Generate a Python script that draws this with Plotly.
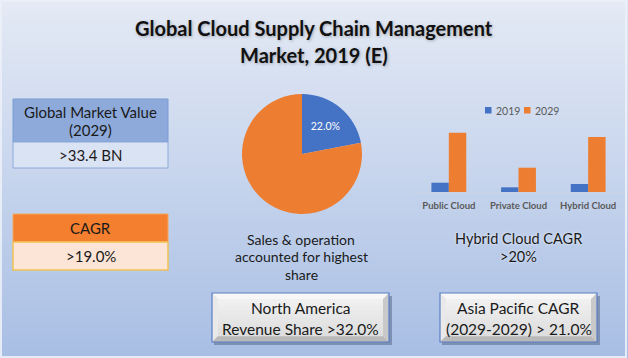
import plotly.graph_objects as go

W, H = 628, 358

# ---------------- data ----------------
title_lines = ["Global Cloud Supply Chain Management", "Market, 2019 (E)"]
pie_labels = ["Sales & operation", "Others"]
pie_values = [22.0, 78.0]
pie_caption = ["Sales & operation", "accounted for highest", "share"]

bar_categories = ["Public Cloud", "Private Cloud", "Hybrid Cloud"]
series_names = ["2019", "2029"]
values_2019 = [1.55, 0.78, 1.33]
values_2029 = [9.88, 4.05, 9.17]
bar_caption = ["Hybrid Cloud CAGR", ">20%"]

market_value_header = ["Global Market Value", "(2029)"]
market_value = ">33.4 BN"
cagr_header = "CAGR"
cagr_value = ">19.0%"
na_text = ["North America", "Revenue Share >32.0%"]
ap_text = ["Asia Pacific CAGR", "(2029-2029) > 21.0%"]

# ---------------- helpers ----------------
def px(x):
    return x / W

def py(y):
    return 1 - y / H

def lerp(c1, c2, t):
    return "rgb(%d,%d,%d)" % tuple(round(a + (b - a) * t) for a, b in zip(c1, c2))

BLUE = "#4472c4"
ORANGE = "#ed7d31"
FONT = "Lato"

shapes = []
annotations = []

# background vertical gradient
top_c, bot_c = (228, 234, 245), (168, 190, 228)
step = 2
for y in range(0, H, step):
    shapes.append(dict(type="rect", xref="paper", yref="paper", layer="below",
                       x0=0, x1=1, y0=py(y + step + 0.5), y1=py(y),
                       fillcolor=lerp(top_c, bot_c, y / H), line_width=0))
# thin outer border
shapes.append(dict(type="rect", xref="paper", yref="paper", layer="below",
                   x0=px(1), x1=px(W - 2), y0=py(H - 1), y1=py(1),
                   fillcolor="rgba(0,0,0,0)", line=dict(color="rgba(235,240,248,0.9)", width=2)))

def rect(x0, y0, x1, y1, fill, line_color=None, lw=1, layer="below"):
    shapes.append(dict(type="rect", xref="paper", yref="paper", layer=layer,
                       x0=px(x0), x1=px(x1), y0=py(y1), y1=py(y0),
                       fillcolor=fill,
                       line=dict(color=line_color or "rgba(0,0,0,0)", width=lw if line_color else 0)))

def poly(pts, fill):
    path = "M " + " L ".join("%f,%f" % (px(x), py(y)) for x, y in pts) + " Z"
    shapes.append(dict(type="path", xref="paper", yref="paper", layer="below",
                       path=path, fillcolor=fill, line_width=0))

def text(s, x, y, size, color="#1a1a1a", bold=False, anchor="center", shadow=None):
    f = dict(family=FONT, size=size, color=color)
    if shadow:
        f["shadow"] = shadow
    annotations.append(dict(xref="paper", yref="paper", x=px(x), y=py(y),
                            text=("<b>%s</b>" % s) if bold else s, showarrow=False,
                            xanchor=anchor, yanchor="middle", font=f))

# title
TSH = "1px 1px 3px rgba(60,60,60,0.35)"
text(title_lines[0], 314, 28, 20, "#111111", bold=True, shadow=TSH)
text(title_lines[1], 314, 55, 20, "#111111", bold=True, shadow=TSH)

# market value box
rect(13, 99, 168, 142, "#8eaadb", "#7b9bd3", 1)
rect(13, 142, 168, 168, "#dae3f3", "#8eaadb", 1)
text(market_value_header[0], 90.5, 112, 15)
text(market_value_header[1], 90.5, 130, 15)
text(market_value, 90.5, 155, 15)

# CAGR box
rect(13, 214, 168, 242, "#f47f2f", "#f0a860", 1)
rect(13, 242, 168, 270, "#fce5d6", "#efc253", 1.5)
text(cagr_header, 90.5, 228, 15)
text(cagr_value, 90.5, 256, 15)

# pie caption
for i, s in enumerate(pie_caption):
    text(s, 301, 239 + i * 17.5, 14)

# bar caption
for i, s in enumerate(bar_caption):
    text(s, 518, 238 + i * 18, 14.5, shadow="0px 0px 3px rgba(255,255,255,0.8)")

# bar legend (manual, compact)
leg_colors = [BLUE, ORANGE]
for i, name in enumerate(series_names):
    x0 = 485 + i * 39
    rect(x0, 107, x0 + 6.5, 113.5, leg_colors[i], layer="above")
    text(name, x0 + 9, 110.5, 10.5, "#595959", anchor="left")

# bevel boxes
def bevel_box(x0, y0, x1, y1, lines):
    b = 6
    rect(x0 + 2, y0 + 3, x1 + 3, y1 + 3, "rgba(70,85,115,0.45)")
    rect(x0, y0, x1, y1, "#e6e6e6")
    poly([(x0, y0), (x1, y0), (x1 - b, y0 + b), (x0 + b, y0 + b)], "#f7f7f7")
    poly([(x0, y0), (x0 + b, y0 + b), (x0 + b, y1 - b), (x0, y1)], "#e9e9e9")
    poly([(x1, y0), (x1, y1), (x1 - b, y1 - b), (x1 - b, y0 + b)], "#c9c9c9")
    poly([(x0, y1), (x0 + b, y1 - b), (x1 - b, y1 - b), (x1, y1)], "#b9b9b9")
    n = 10
    for k in range(n):
        ya = y0 + b + (y1 - y0 - 2 * b) * k / n
        yb = y0 + b + (y1 - y0 - 2 * b) * (k + 1) / n
        rect(x0 + b, ya, x1 - b, yb + 0.3, lerp((240, 240, 240), (222, 222, 222), k / (n - 1)))
    rect(x0, y0, x1, y1, "rgba(0,0,0,0)", "#5a80c6", 1.2)
    cx = (x0 + x1) / 2
    text(lines[0], cx, 308, 15.5)
    text(lines[1], cx, 329, 15.5)

bevel_box(212, 293, 389, 342, na_text)
bevel_box(440, 293, 597, 342, ap_text)

# ---------------- traces ----------------
fig = go.Figure()

fig.add_trace(go.Pie(
    labels=pie_labels, values=pie_values, sort=False, direction="clockwise", rotation=0,
    marker=dict(colors=[BLUE, ORANGE], line=dict(width=0)),
    texttemplate=["%{percent:.1%}", ""], textposition="inside",
    insidetextorientation="horizontal",
    textfont=dict(family=FONT, size=10.5, color="white"),
    hoverinfo="label+percent", showlegend=False,
    domain=dict(x=[px(242), px(362)], y=[py(214), py(94)]),
))

fig.add_trace(go.Bar(x=bar_categories, y=values_2019, name=series_names[0],
                     marker=dict(color=BLUE, line_width=0), xaxis="x", yaxis="y",
                     showlegend=False))
fig.add_trace(go.Bar(x=bar_categories, y=values_2029, name=series_names[1],
                     marker=dict(color=ORANGE, line_width=0), xaxis="x", yaxis="y",
                     showlegend=False))

fig.update_layout(
    width=W, height=H, margin=dict(l=0, r=0, t=0, b=0),
    paper_bgcolor="#c6d3eb", plot_bgcolor="rgba(0,0,0,0)",
    barmode="group", bargap=0.5, bargroupgap=0,
    xaxis=dict(domain=[px(414), px(623)], anchor="y", showgrid=False, zeroline=False,
               showline=True, linecolor="#c9d3e3", linewidth=1, ticks="",
               tickfont=dict(family=FONT, size=9.5, color="#595959", weight="bold"),
               ticklabelstandoff=5, fixedrange=True),
    yaxis=dict(domain=[py(192), py(132)], range=[0, 10], visible=False, fixedrange=True),
    shapes=shapes, annotations=annotations, showlegend=False,
)

fig.write_html("out.html", config={"displayModeBar": False},
               post_script="document.body.style.margin='0';document.body.style.overflow='hidden';")
